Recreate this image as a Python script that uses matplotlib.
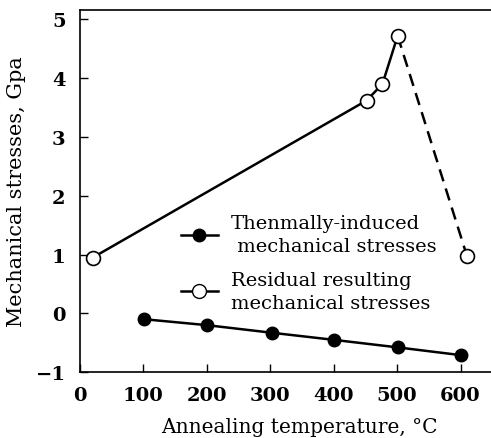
import matplotlib
matplotlib.use("Agg")
import matplotlib.pyplot as plt
from matplotlib.lines import Line2D

plt.rcParams['font.family'] = ['DejaVu Serif']
plt.rcParams['axes.unicode_minus'] = True

# Thermally-induced stresses (filled circles)
temp_thermal = [102, 200, 303, 400, 502, 600]
stress_thermal = [-0.10, -0.20, -0.33, -0.45, -0.58, -0.71]

# Residual resulting stresses (open circles)
temp_resid_solid = [21, 452, 477, 501]
stress_resid_solid = [0.95, 3.62, 3.90, 4.72]
temp_resid_dash = [501, 610]
stress_resid_dash = [4.72, 0.98]

xticks = [0, 100, 200, 300, 400, 500, 600]
yticks = [-1, 0, 1, 2, 3, 4, 5]

fig = plt.figure(figsize=(4.91, 4.39), dpi=100)
ax = fig.add_axes([0.162, 0.150, 0.838, 0.825])

ax.plot(temp_thermal, stress_thermal, '-o', color='black', lw=1.8,
        ms=9, mfc='black', mec='black', zorder=3)
ax.plot(temp_resid_dash, stress_resid_dash, '--', color='black', lw=1.8,
        dashes=(5, 3), zorder=2)
ax.plot(temp_resid_solid, stress_resid_solid, '-', color='black', lw=1.8, zorder=2)
ax.plot(temp_resid_solid + temp_resid_dash[1:], stress_resid_solid + stress_resid_dash[1:],
        'o', color='black', ms=10, mfc='white', mec='black', mew=1.2, zorder=4)

ax.set_xlim(0, 648)
ax.set_ylim(-1, 5.16)
ax.set_xticks(xticks)
ax.set_yticks(yticks)
ax.tick_params(direction='in', length=6, width=1, labelsize=14, pad=10)
for lab in ax.get_xticklabels() + ax.get_yticklabels():
    lab.set_fontweight('bold')
ax.spines['right'].set_visible(False)
for s in ['left', 'bottom', 'top']:
    ax.spines[s].set_linewidth(1.2)

ax.set_xlabel('Annealing temperature, °C', fontsize=14.5, va='top')
ax.xaxis.set_label_coords(0.534, -0.125)
ax.set_ylabel('Mechanical stresses, Gpa', fontsize=15)
ax.yaxis.set_label_coords(-0.13, 0.5)

handles = [
    Line2D([], [], color='black', lw=1.8, marker='o', ms=9, mfc='black', mec='black'),
    Line2D([], [], color='black', lw=1.8, marker='o', ms=10, mfc='white', mec='black'),
]
labels = ['Thenmally-induced\n mechanical stresses', 'Residual resulting\nmechanical stresses']
leg = ax.legend(handles, labels, loc='upper left', bbox_to_anchor=(0.203, 0.484),
                frameon=False, fontsize=14, handlelength=1.9, handletextpad=0.7,
                labelspacing=0.8)
for t in leg.get_texts():
    t.set_linespacing(1.35)

fig.savefig('out.png', dpi=100)
